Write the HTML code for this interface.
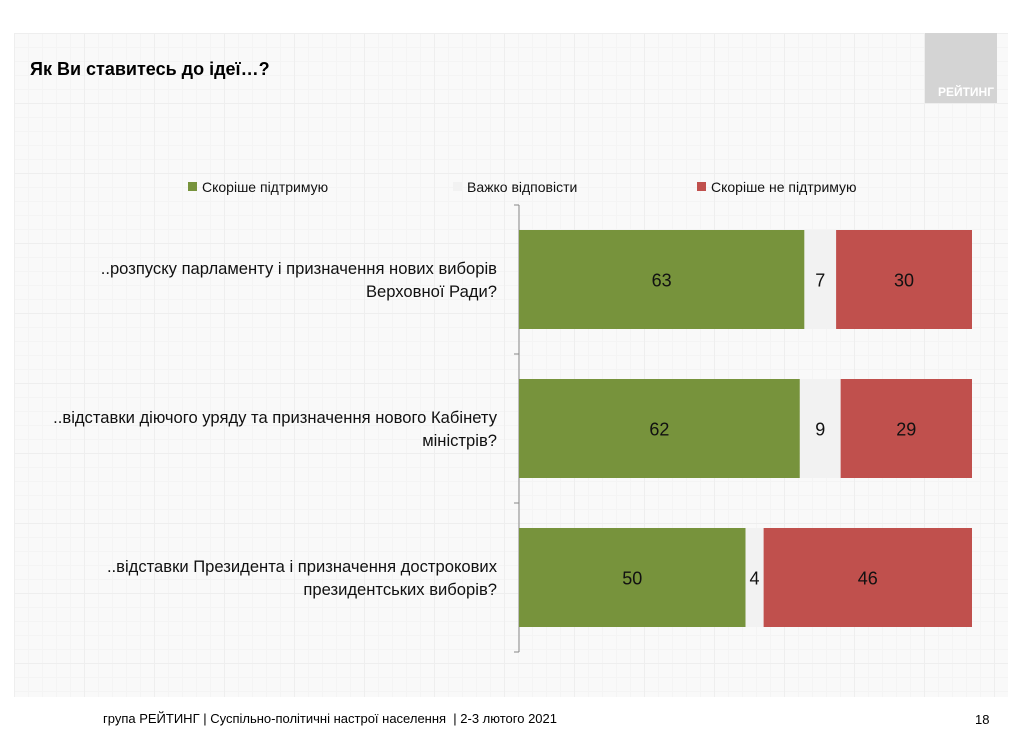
<!DOCTYPE html>
<html><head><meta charset="utf-8">
<style>
body{margin:0;width:1024px;height:732px;background:#fff;font-family:"Liberation Sans",sans-serif;position:relative;overflow:hidden}
#bg{position:absolute;left:14px;top:33px;width:994px;height:664px;background-color:#f9f9f9;
background-image:linear-gradient(#eeeeee 1px,transparent 1px),linear-gradient(90deg,#eeeeee 1px,transparent 1px),linear-gradient(#f4f4f4 1px,transparent 1px),linear-gradient(90deg,#f4f4f4 1px,transparent 1px);
background-size:70px 70px,70px 70px,14px 14px,14px 14px}
.t{position:absolute;white-space:nowrap}
</style></head><body>
<div id="bg"></div>
<div class="t" style="left:30px;top:59px;font-size:18px;font-weight:bold">Як Ви ставитесь до ідеї…?</div>
<div style="position:absolute;left:925px;top:33px;width:72px;height:70px;background:#d4d4d4"><span class="t" style="right:3px;bottom:4px;color:#fff;font-weight:bold;font-size:12px">РЕЙТИНГ</span></div>
<svg id="chart" width="1024" height="732" style="position:absolute;left:0;top:0"></svg>
<div class="t" style="left:103px;top:711px;font-size:13px">група РЕЙТИНГ | Суспільно-політичні настрої населення &nbsp;| 2-3 лютого 2021</div>
<div class="t" style="left:975px;top:712px;font-size:13px">18</div>
<script>
const categories=[["..розпуску парламенту і призначення нових виборів","Верховної Ради?"],["..відставки діючого уряду та призначення нового Кабінету","міністрів?"],["..відставки Президента і призначення дострокових","президентських виборів?"]];
const support=[63,62,50];
const hard=[7,9,4];
const oppose=[30,29,46];
const seriesNames=["Скоріше підтримую","Важко відповісти","Скоріше не підтримую"];
const colors=["#77933c","#f2f2f2","#c0504d"];
const NS="http://www.w3.org/2000/svg";
const svg=document.getElementById('chart');
const x0=519,xScale=4.53,yTop=205,band=149,barH=99;
const X=v=>x0+v*xScale;
const Y=i=>yTop+i*band+(band-barH)/2;
function mk(tag,attrs,txt){const e=document.createElementNS(NS,tag);for(const k in attrs)e.setAttribute(k,attrs[k]);if(txt!==undefined)e.textContent=txt;svg.appendChild(e);return e;}
let ax=mk('line',{x1:x0,y1:yTop,x2:x0,y2:yTop+band*categories.length,stroke:'#888','stroke-width':1});


for(let i=0;i<=categories.length;i++){let t=mk('line',{x1:x0-5,y1:yTop+i*band,x2:x0,y2:yTop+i*band,stroke:'#888'});

}
const series=[support,hard,oppose];
categories.forEach((c,i)=>{
  let acc=0;
  series.forEach((s,j)=>{
    const v=s[i];
    const r=mk('rect',{x:X(acc),y:Y(i),width:X(acc+v)-X(acc),height:barH,fill:colors[j]});
    
    
    const t=mk('text',{x:(X(acc)+X(acc+v))/2,y:Y(i)+barH/2+7,'text-anchor':'middle','font-size':18,fill:'#111'},v);
    
    
    acc+=v;
  });
  c.forEach((line,k)=>{
    const cy=yTop+i*band+band/2;
    const t=mk('text',{x:497,y:cy+1+k*23-(c.length-1)*11.5+5,'text-anchor':'end','font-size':16.6,fill:'#111'},line);
    
    
  });
});
const legX=[188,453,697];
seriesNames.forEach((n,j)=>{
  const r=mk('rect',{x:legX[j],y:182,width:9,height:9,fill:colors[j]});
  
  
  const t=mk('text',{x:legX[j]+14,y:192,'font-size':14,fill:'#111'},n);
  
  
});
</script>
</body></html>
